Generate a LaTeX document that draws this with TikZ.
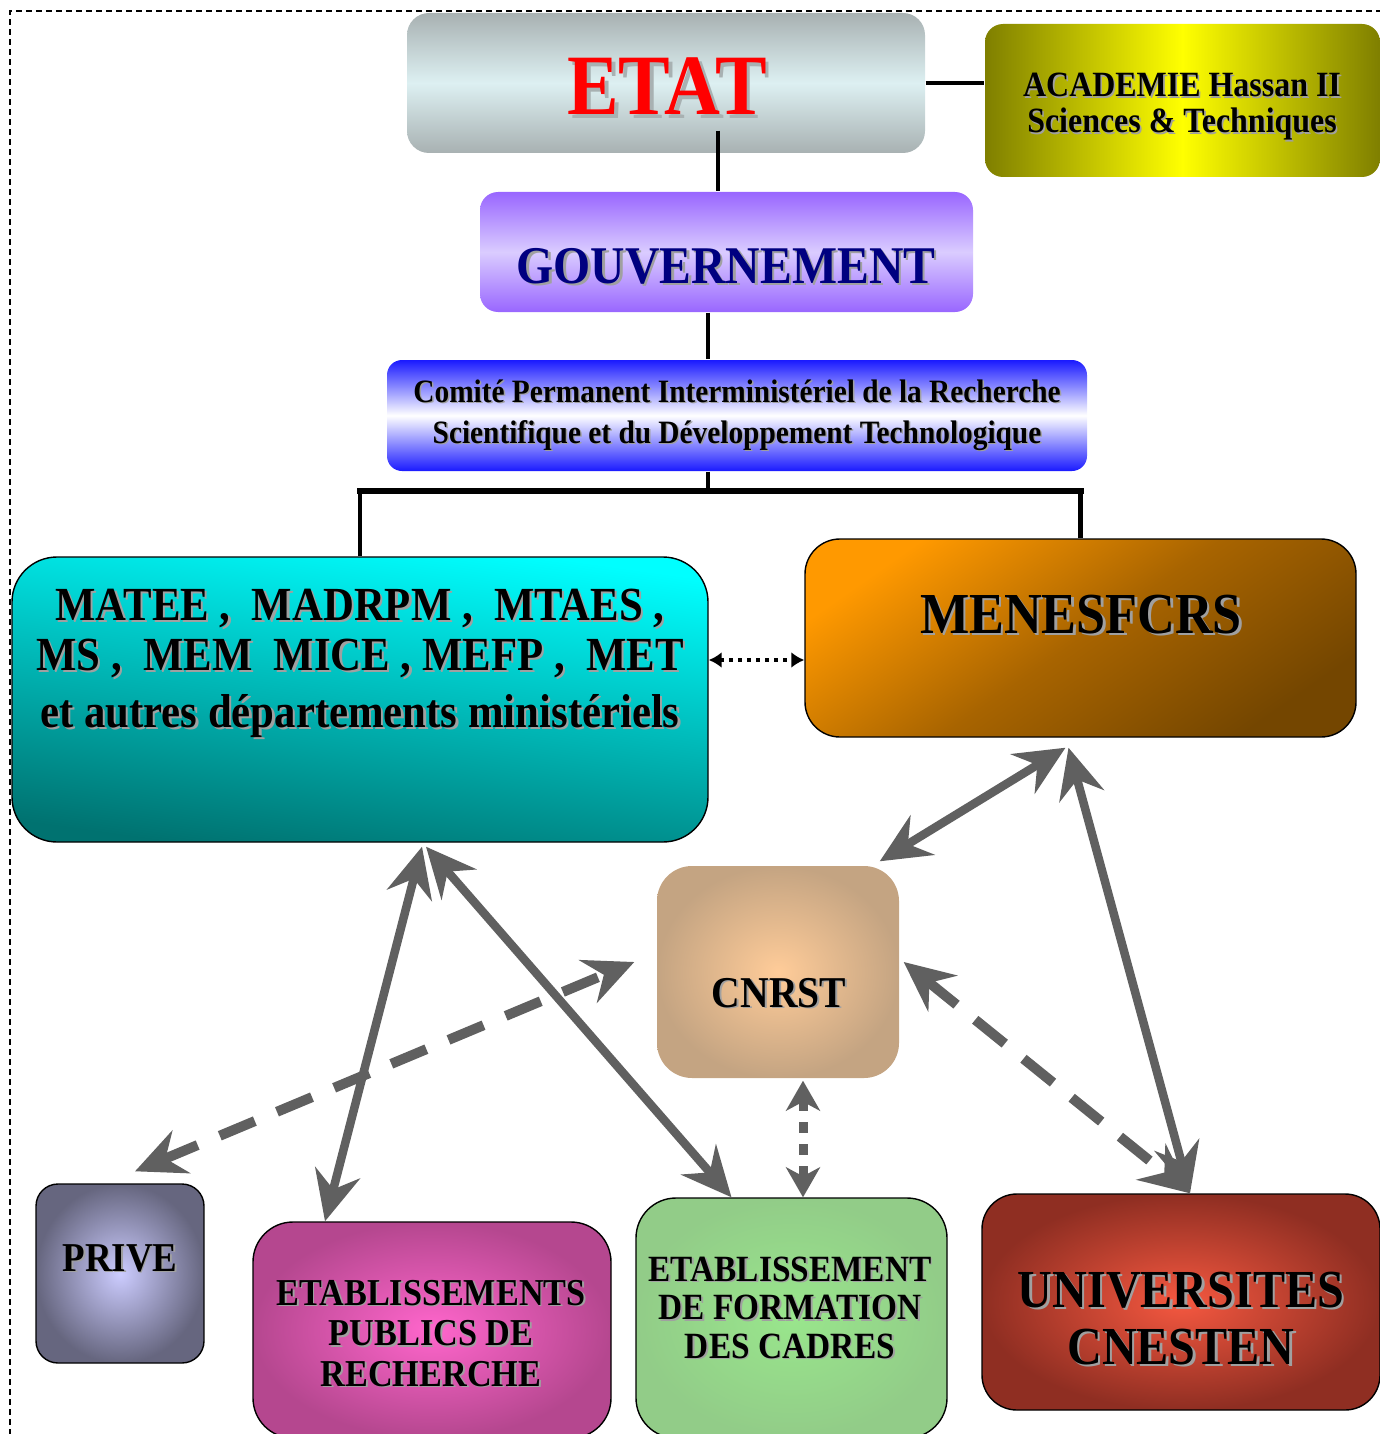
\documentclass[tikz,border=0pt]{standalone}
\usepackage{fontspec}
\setmainfont{Liberation Serif}[FakeStretch=0.9]
\usetikzlibrary{arrows.meta}

\definecolor{etatedge}{HTML}{A8B1B2}
\definecolor{etatmid}{HTML}{DDF0F2}
\definecolor{acadedge}{HTML}{7F7F00}
\definecolor{acadmid}{HTML}{FFFF00}
\definecolor{gouvedge}{HTML}{9966FF}
\definecolor{gouvmid}{HTML}{DACCFF}
\definecolor{gouvtext}{HTML}{000080}
\definecolor{comedge}{HTML}{1A1AFF}
\definecolor{mateelight}{HTML}{00FFFF}
\definecolor{mateedark}{HTML}{007270}
\definecolor{menesorange}{HTML}{FF9900}
\definecolor{menesmid}{HTML}{A86400}
\definecolor{menesbrown}{HTML}{744600}
\definecolor{cnrstin}{HTML}{FFCC99}
\definecolor{cnrstout}{HTML}{C4A482}
\definecolor{privein}{HTML}{CCCCFF}
\definecolor{priveout}{HTML}{66667F}
\definecolor{eprin}{HTML}{FF66CC}
\definecolor{eprout}{HTML}{B5478F}
\definecolor{efcin}{HTML}{99E68C}
\definecolor{efcout}{HTML}{92CC88}
\definecolor{univin}{HTML}{F55840}
\definecolor{univout}{HTML}{8F2E22}
\definecolor{arrowgray}{HTML}{606060}
\definecolor{shadowgray}{HTML}{A0A0A0}

\newcommand\fsz[2]{\fontsize{#1}{#2}\selectfont}
% text with a grey drop shadow
\newcommand\shd[2][shadowgray]{\leavevmode\rlap{\kern.045em\raisebox{-.045em}{\textcolor{#1}{#2}}}#2}

\begin{document}
\begin{tikzpicture}[
  x=1pt, y=-1pt,
  line cap=butt,
  box/.style={rectangle, rounded corners=#1, draw=black, line width=1.4pt, inner sep=0pt},
  box/.default=30pt,
  flat/.style={draw=none},
  txt/.style={align=center, anchor=base, inner sep=0pt},
  link/.style={draw=black, line width=4.5pt},
  bigtip/.style={arrows={Stealth[length=50pt,width=46pt,inset=17pt]-Stealth[length=50pt,width=46pt,inset=17pt]}},
  garrow/.style={draw=arrowgray, line width=8.5pt, bigtip},
  gdash/.style={draw=arrowgray, line width=10pt, dash pattern=on 38pt off 24pt, bigtip},
  gdot/.style={draw=arrowgray, line width=9pt, dash pattern=on 11pt off 11pt,
    arrows={Stealth[length=30pt,width=34pt,inset=9pt]-Stealth[length=30pt,width=34pt,inset=9pt]}},
  kdot/.style={draw=black, line width=4pt, dash pattern=on 4pt off 5pt,
    arrows={Latex[length=13pt,width=16pt]-Latex[length=13pt,width=16pt]}}
]
\useasboundingbox (0,0) rectangle (1380,1434);

% outer frame
\draw[dash pattern=on 6pt off 4pt, line width=1.3pt] (10,1445) -- (10,11) -- (1395,11);

% ------------------------------------------------------------------
% boxes
% ------------------------------------------------------------------
\node[box=22pt, flat, top color=etatedge, bottom color=etatedge, middle color=etatmid,
  minimum width=518pt, minimum height=140pt] (etat) at (666,83) {};
\node[box=18pt, flat, left color=acadedge, right color=acadedge, middle color=acadmid,
  minimum width=395pt, minimum height=153pt] (acad) at (1182.5,100.5) {};
\node[box=18pt, flat, top color=gouvedge, bottom color=gouvedge, middle color=gouvmid,
  minimum width=493pt, minimum height=120pt] (gouv) at (726.5,252) {};
\node[box=15pt, flat, top color=comedge, bottom color=comedge, middle color=white,
  minimum width=700pt, minimum height=111pt] (comite) at (737,415.5) {};

\node[box=45pt, top color=mateelight, bottom color=mateedark, shading angle=-8,
  minimum width=696pt, minimum height=285pt] (matee) at (360,699.5) {};
\node[box=35pt, top color=menesorange, bottom color=menesbrown, middle color=menesmid,
  shading angle=35, minimum width=551pt, minimum height=198pt] (menes) at (1080.5,638) {};

\node[box=35pt, flat, shading=radial, inner color=cnrstin, outer color=cnrstout,
  minimum width=242pt, minimum height=212pt] (cnrst) at (778,972) {};

\node[box=22pt, shading=radial, inner color=privein, outer color=priveout,
  minimum width=168pt, minimum height=179pt] (prive) at (120,1273.5) {};
\node[box=40pt, shading=radial, inner color=eprin, outer color=eprout,
  minimum width=358pt, minimum height=216pt] (epr) at (432,1330) {};
\node[box=40pt, shading=radial, inner color=efcin, outer color=efcout,
  minimum width=311pt, minimum height=240pt] (efc) at (791.5,1318) {};
\node[box=35pt, shading=radial, inner color=univin, outer color=univout,
  minimum width=398pt, minimum height=216pt] (univ) at (1181,1302) {};

% ------------------------------------------------------------------
% labels (base = baseline of the last line)
% ------------------------------------------------------------------
\node[txt, text=red, font=\bfseries\fsz{86}{86}] (etatT) at (667,115) {\shd[etatedge]{ETAT}};
\node[txt, font=\bfseries\fsz{35.5}{36}] (acadT) at (1182,133)
  {\shd{ACADEMIE Hassan II}\\\shd{Sciences \& Techniques}};
\node[txt, text=gouvtext, font=\bfseries\fsz{53}{53}] (gouvT) at (726,283) {\shd{GOUVERNEMENT}};
\node[txt, font=\bfseries\fsz{32.6}{41}] (comiteT) at (737,443)
  {\shd{Comité Permanent Interministériel de la Recherche}\\
   \shd{Scientifique et du Développement Technologique}};
\node[txt, font=\bfseries\fsz{47.5}{50}] (mateeT) at (360,727)
  {\shd{MATEE ,~ MADRPM ,~ MTAES ,}\\
   \shd{MS ,~ MEM~ MICE , MEFP ,~ MET}\\[7pt]
   \shd{et autres départements ministériels}};
\node[txt, font=\bfseries\fsz{58}{58}] (menesT) at (1081,633) {\shd{MENESFCRS}};
\node[txt, font=\bfseries\fsz{44}{44}] (cnrstT) at (779,1007) {\shd{CNRST}};
\node[txt, font=\bfseries\fsz{41}{41}] (priveT) at (120,1271) {\shd{PRIVE}};
\node[txt, font=\bfseries\fsz{38}{40.5}] (eprT) at (431,1386)
  {\shd{ETABLISSEMENTS}\\\shd{PUBLICS DE}\\\shd{RECHERCHE}};
\node[txt, font=\bfseries\fsz{37}{38.5}] (efcT) at (790,1358)
  {\shd{ETABLISSEMENT}\\\shd{DE FORMATION}\\\shd{DES CADRES}};
\node[txt, font=\bfseries\fsz{53.5}{57}] (univT) at (1181,1364)
  {\shd{UNIVERSITES}\\\shd{CNESTEN}};

% ------------------------------------------------------------------
% hierarchy links
% ------------------------------------------------------------------
\draw[link] (etat.east) -- (etat.east -| acad.west);
\draw[link] ([xshift=52pt,yshift=23pt]etat.south) -- ([xshift=52pt]etat.south |- gouv.north);
\draw[link] ([xshift=-18.5pt]gouv.south) -- ([xshift=-18.5pt]gouv.south |- comite.north);
\coordinate (split) at (708,491);
\draw[link] ([xshift=-29pt]comite.south) -- (split);
\draw[link] (matee.north) -- (matee.north |- split);
\draw[link] (menes.north) -- (menes.north |- split);
\draw[link, line width=6pt, line cap=rect] (matee.north |- split) -- (menes.north |- split);

% ------------------------------------------------------------------
% relations
% ------------------------------------------------------------------
\draw[kdot] ([yshift=39.5pt]matee.east) -- ([yshift=39.5pt]matee.east -| menes.west);
\draw[garrow] ([xshift=62pt,yshift=-4pt]matee.south) -- ([xshift=-107pt]epr.north);
\draw[garrow] ([xshift=66pt,yshift=-4pt]matee.south) -- ([xshift=-60pt]efc.north);
\draw[garrow] ([xshift=-15pt,yshift=-10pt]menes.south) -- ([xshift=-20pt,yshift=4pt]cnrst.north east);
\draw[garrow] ([xshift=-12pt,yshift=-10pt]menes.south) -- ([xshift=9pt]univ.north);
\draw[gdash] ([xshift=15pt,yshift=12pt]prive.north) -- ([xshift=-22pt,yshift=10pt]cnrst.west);
\draw[gdash] ([xshift=4pt,yshift=10pt]cnrst.east) -- ([xshift=9pt]univ.north);
\draw[gdot] ([xshift=25pt,yshift=-2pt]cnrst.south) -- ([xshift=11.5pt]efc.north);

\end{tikzpicture}
\end{document}
